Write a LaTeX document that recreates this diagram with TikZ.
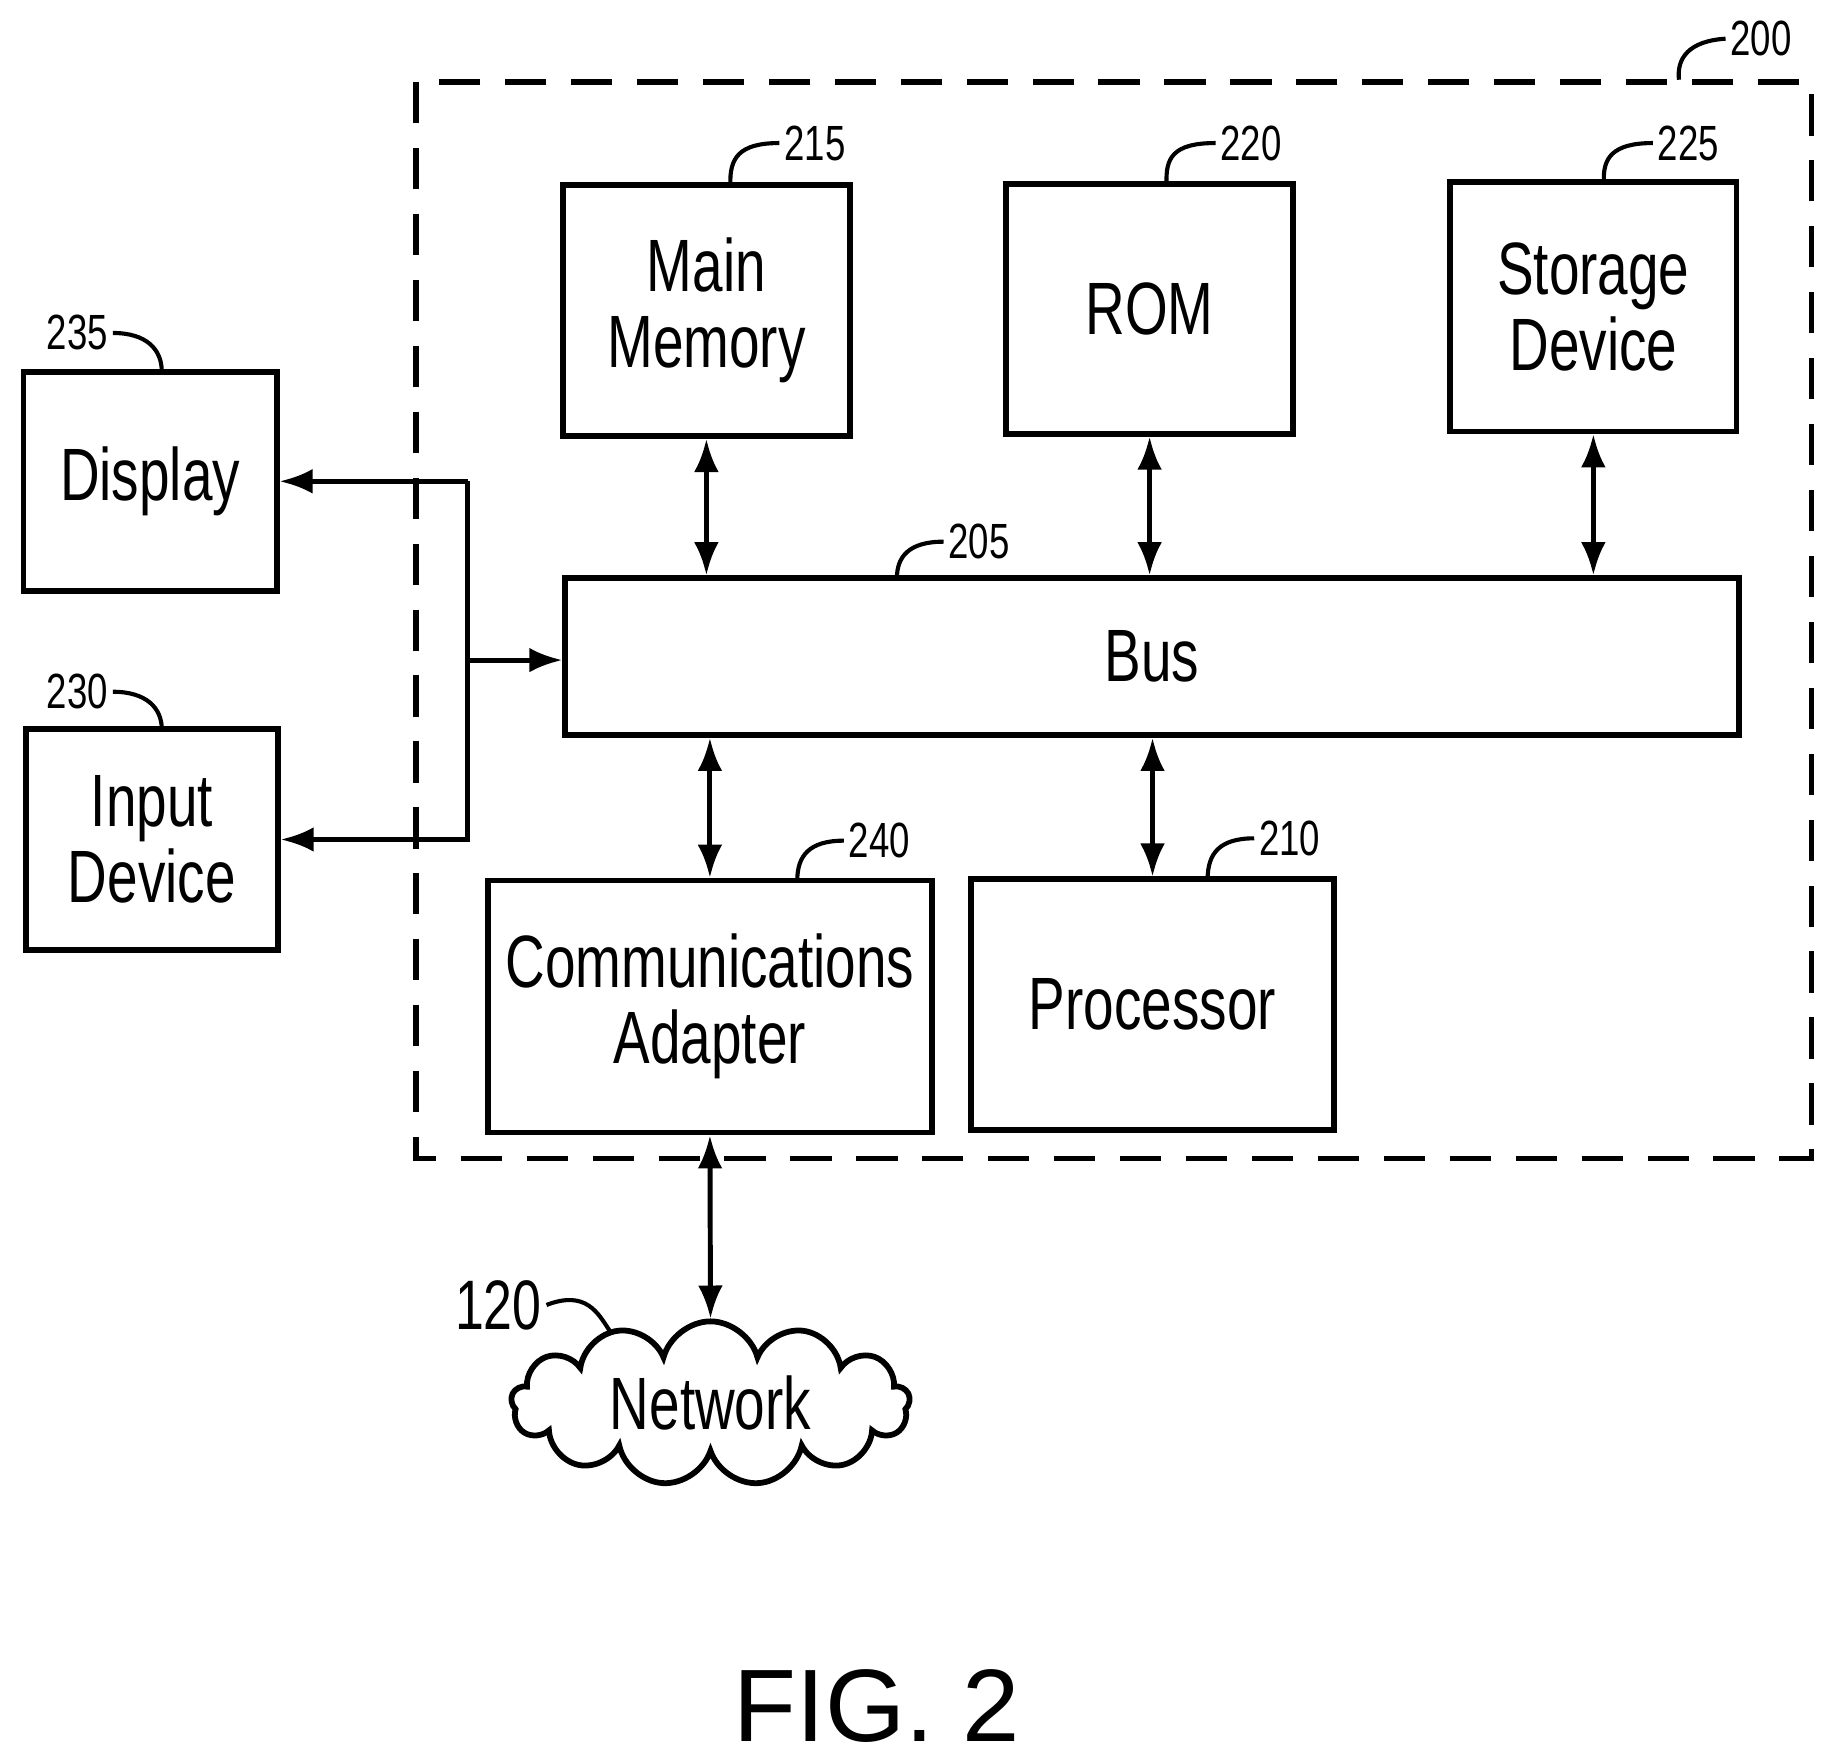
\documentclass[tikz,border=0pt]{standalone}
\usepackage{fontspec}
\setmainfont{Liberation Sans}[FakeStretch=0.74]
\newfontfamily\figfont{Liberation Sans}
\usetikzlibrary{arrows.meta,positioning,shapes.symbols}

\begin{document}
\begin{tikzpicture}[
  box/.style={draw, line width=1.4pt, inner sep=0pt, align=center,
    font=\fontsize{18}{18.5}\selectfont},
  num/.style={font=\fontsize{12}{13}\selectfont, inner sep=1pt},
  lead/.style={line width=1pt},
  arr/.style={-{Latex[length=8pt,width=6pt]}, line width=1.2pt},
  biarr/.style={{Latex[length=8pt,width=6pt]}-{Latex[length=8pt,width=6pt]}, line width=1.2pt}
]
  \useasboundingbox (0,0) rectangle (15.6,-15.01);
  % enclosure
  \draw[line width=1.4pt, dash pattern=on 10pt off 6pt] (3.55,-0.70) rectangle (15.45,-9.88);
  \node[num] (n200) at (15.02,-0.33) {200};
  \draw[lead] (n200.west) .. controls (14.4,-0.35) and (14.3,-0.5) .. (14.32,-0.68);

  % boxes
  \node[box, minimum width=2.45cm, minimum height=2.14cm] (mem) at (6.025,-2.65) {Main\\Memory};
  \node[box, minimum width=2.45cm, minimum height=2.13cm] (rom) at (9.805,-2.635) {ROM};
  \node[box, minimum width=2.44cm, minimum height=2.13cm] (stor) at (13.59,-2.615) {Storage\\Device};
  \node[box, minimum width=10.01cm, minimum height=1.34cm] (bus) at (9.825,-5.60) {Bus};
  \node[box, minimum width=3.79cm, minimum height=2.15cm] (comm) at (6.055,-8.585) {Communications\\Adapter};
  \node[box, minimum width=3.10cm, minimum height=2.14cm] (proc) at (9.83,-8.57) {Processor};
  \node[box, minimum width=2.16cm, minimum height=1.87cm] (disp) at (1.28,-4.105) {Display};
  \node[box, minimum width=2.15cm, minimum height=1.88cm] (inp) at (1.295,-7.16) {Input\\Device};
  \node[cloud, draw, line width=1.4pt, cloud puffs=13, aspect=2.4, inner sep=0pt,
    minimum width=3.4cm, minimum height=1.4cm] (net) at (6.06,-11.97) {};
  \node[box, draw=none] (netlbl) at (net.center) {Network};

  % reference numerals
  \node[num] (n215) at (6.95,-1.22) {215};
  \node[num] (n220) at (10.67,-1.22) {220};
  \node[num] (n225) at (14.40,-1.22) {225};
  \node[num] (n205) at (8.35,-4.62) {205};
  \node[num] (n240) at (7.50,-7.17) {240};
  \node[num] (n210) at (11.00,-7.15) {210};
  \node[num] (n235) at (0.66,-2.84) {235};
  \node[num] (n230) at (0.66,-5.90) {230};
  \node[font=\fontsize{17}{18}\selectfont, inner sep=1pt] (n120) at (4.25,-11.13) {120};
  \node[font=\figfont\fontsize{25}{27}\selectfont] (fig) at (7.48,-14.55) {FIG. 2};

  \draw[lead] (n215.west) .. controls (6.3,-1.22) and (6.22,-1.35) .. (6.23,-1.58);
  \draw[lead] (n220.west) .. controls (10.0,-1.22) and (9.94,-1.35) .. (9.95,-1.57);
  \draw[lead] (n225.west) .. controls (13.75,-1.22) and (13.67,-1.35) .. (13.68,-1.55);
  \draw[lead] (n205.west) .. controls (7.75,-4.62) and (7.65,-4.75) .. (7.65,-4.93);
  \draw[lead] (n240.west) .. controls (6.9,-7.17) and (6.8,-7.30) .. (6.8,-7.51);
  \draw[lead] (n210.west) .. controls (10.4,-7.15) and (10.3,-7.28) .. (10.3,-7.50);
  \draw[lead] (n235.east) .. controls (1.25,-2.84) and (1.38,-2.98) .. (1.38,-3.17);
  \draw[lead] (n230.east) .. controls (1.25,-5.90) and (1.38,-6.04) .. (1.38,-6.22);
  \draw[lead] (n120.east) .. controls (5.0,-11.0) and (5.1,-11.2) .. (5.2,-11.35);

  % connectors
  \draw[biarr] (mem.south) -- (mem.south |- bus.north);
  \draw[biarr] (rom.south) -- (rom.south |- bus.north);
  \draw[biarr] (stor.south) -- (stor.south |- bus.north);
  \draw[biarr] (comm.north |- bus.south) -- (comm.north);
  \draw[biarr] (proc.north |- bus.south) -- (proc.north);
  \draw[biarr] (comm.south) -- (net.north);

  \coordinate (j) at (3.99,-5.63);
  \draw[arr] (j) -- (j -| bus.west);
  \draw[arr] (j |- disp.east) -- (disp.east);
  \draw[arr] (j |- disp.east) -- (j |- inp.east) -- (inp.east);
\end{tikzpicture}
\end{document}
